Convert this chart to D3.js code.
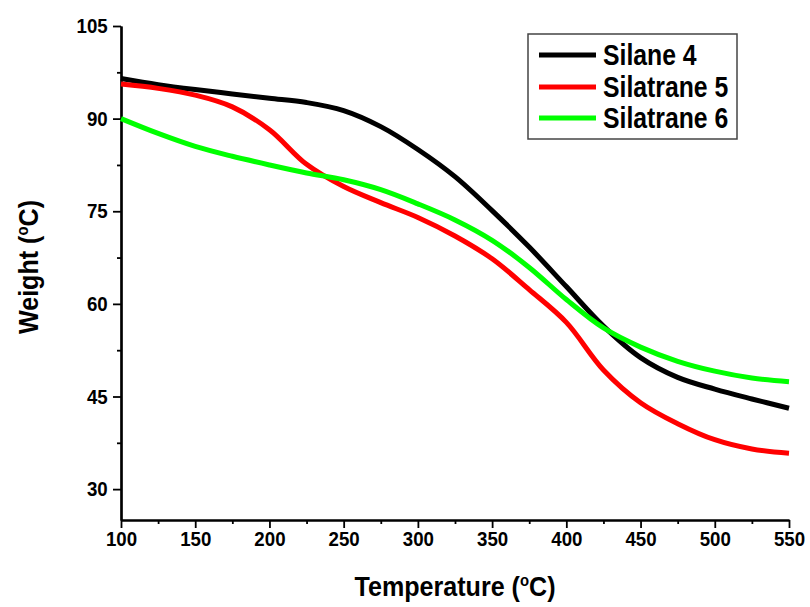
<!DOCTYPE html>
<html>
<head>
<meta charset="utf-8">
<script src="https://cdn.jsdelivr.net/npm/d3@7"></script>
<style>
  body { margin: 0; background: #fff; }
  svg text { font-family: Arial, "Liberation Sans", sans-serif; font-weight: bold; fill: #000; }
</style>
</head>
<body>
<div id="chart"></div>
<script>
// temperatures (°C)
const temps = [100, 125, 150, 175, 200, 225, 250, 275, 300, 325, 350, 375, 400, 425, 450, 475, 500, 525, 550]
const silane4 = [96.5, 95.5, 94.7, 94.0, 93.3, 92.6, 91.3, 88.7, 85.0, 80.6, 75.1, 69.2, 62.8, 56.4, 51.3, 48.1, 46.2, 44.6, 43.1]
const silatrane5 = [95.6, 94.9, 93.8, 91.9, 88.2, 82.6, 79.0, 76.4, 74.0, 71.0, 67.3, 62.3, 57.0, 49.3, 44.0, 40.6, 38.0, 36.5, 35.8]
const silatrane6 = [90.0, 87.6, 85.5, 83.9, 82.5, 81.2, 80.1, 78.5, 76.2, 73.6, 70.3, 65.9, 60.7, 56.1, 53.0, 50.7, 49.1, 48.0, 47.4]

const seriesNames = ['Silane 4', 'Silatrane 5', 'Silatrane 6']
const seriesColors = ['#000000', '#ff0000', '#00ff00']
const xTicks = [100, 150, 200, 250, 300, 350, 400, 450, 500, 550]
const yTicks = [30, 45, 60, 75, 90, 105]

const width = 810
const height = 607
const plotLeft = 121, plotRight = 789, plotTop = 26, plotBottom = 520

const svg = d3.select('#chart')
    .append('svg')
    .attr('width', width)
    .attr('height', height)

const x = d3.scaleLinear().domain([100, 550]).range([plotLeft, plotRight])
const y = d3.scaleLinear().domain([25, 105]).range([plotBottom, plotTop])

// minor ticks halfway between the major ones
const xMinor = xTicks.slice(0, -1).map(t => t + 25)
const yMinor = yTicks.map(t => t + 7.5).filter(t => t < 105)

svg.append('g')
    .attr('transform', `translate(0,${plotBottom})`)
    .call(d3.axisBottom(x).tickValues(xMinor).tickSize(4).tickSizeOuter(0).tickFormat(''))
svg.append('g')
    .attr('transform', `translate(${plotLeft},0)`)
    .call(d3.axisLeft(y).tickValues(yMinor).tickSize(4).tickSizeOuter(0).tickFormat(''))

svg.append('g')
    .attr('transform', `translate(0,${plotBottom})`)
    .call(d3.axisBottom(x).tickValues(xTicks).tickSize(8).tickPadding(3).tickSizeOuter(0))
svg.append('g')
    .attr('transform', `translate(${plotLeft},0)`)
    .call(d3.axisLeft(y).tickValues(yTicks).tickSize(8).tickPadding(7).tickSizeOuter(0))

svg.selectAll('.domain').attr('stroke', '#000').attr('stroke-width', 2.2)
svg.selectAll('.tick line').attr('stroke', '#000').attr('stroke-width', 1.8)
svg.selectAll('.tick text')
    .style('font-family', 'Arial, "Liberation Sans", sans-serif')
    .style('font-weight', 'bold')
    .style('font-size', '21px')
    .attr('fill', '#000')
    .attr('transform', 'scale(0.89,1)')

// lines
const line = d3.line()
    .x((d, i) => x(temps[i]))
    .y(d => y(d))
    .curve(d3.curveCatmullRom.alpha(0.5))

const allSeries = [silane4, silatrane5, silatrane6]
svg.selectAll('path.series')
    .data(allSeries)
    .enter()
    .append('path')
    .attr('class', 'series')
    .attr('d', d => line(d))
    .attr('fill', 'none')
    .attr('stroke', (d, i) => seriesColors[i])
    .attr('stroke-width', 5)
    .attr('stroke-linejoin', 'round')

// axis titles
const xTitle = svg.append('text')
    .attr('transform', 'translate(455,596) scale(0.93,1)')
    .attr('text-anchor', 'middle')
    .style('font-size', '27px')
xTitle.append('tspan').text('Temperature (')
xTitle.append('tspan').text('o').attr('dy', -10).style('font-size', '16px')
xTitle.append('tspan').text('C)').attr('dy', 10)

const yTitle = svg.append('text')
    .attr('transform', 'translate(38,267) rotate(-90) scale(0.93,1)')
    .attr('text-anchor', 'middle')
    .style('font-size', '27px')
yTitle.append('tspan').text('Weight (')
yTitle.append('tspan').text('o').attr('dy', -10).style('font-size', '16px')
yTitle.append('tspan').text('C)').attr('dy', 10)

// legend
const legend = svg.append('g')
legend.append('rect')
    .attr('x', 528).attr('y', 34)
    .attr('width', 209).attr('height', 105)
    .attr('fill', '#fff')
    .attr('stroke', '#444')
    .attr('stroke-width', 1.5)

const rowY = [55, 87, 118]
seriesNames.forEach((name, i) => {
    legend.append('line')
        .attr('x1', 539).attr('x2', 596)
        .attr('y1', rowY[i]).attr('y2', rowY[i])
        .attr('stroke', seriesColors[i])
        .attr('stroke-width', 5)
    legend.append('text')
        .attr('transform', `translate(603,${rowY[i] + 10}) scale(0.84,1)`)
        .style('font-size', '29.5px')
        .text(name)
})
</script>
</body>
</html>
